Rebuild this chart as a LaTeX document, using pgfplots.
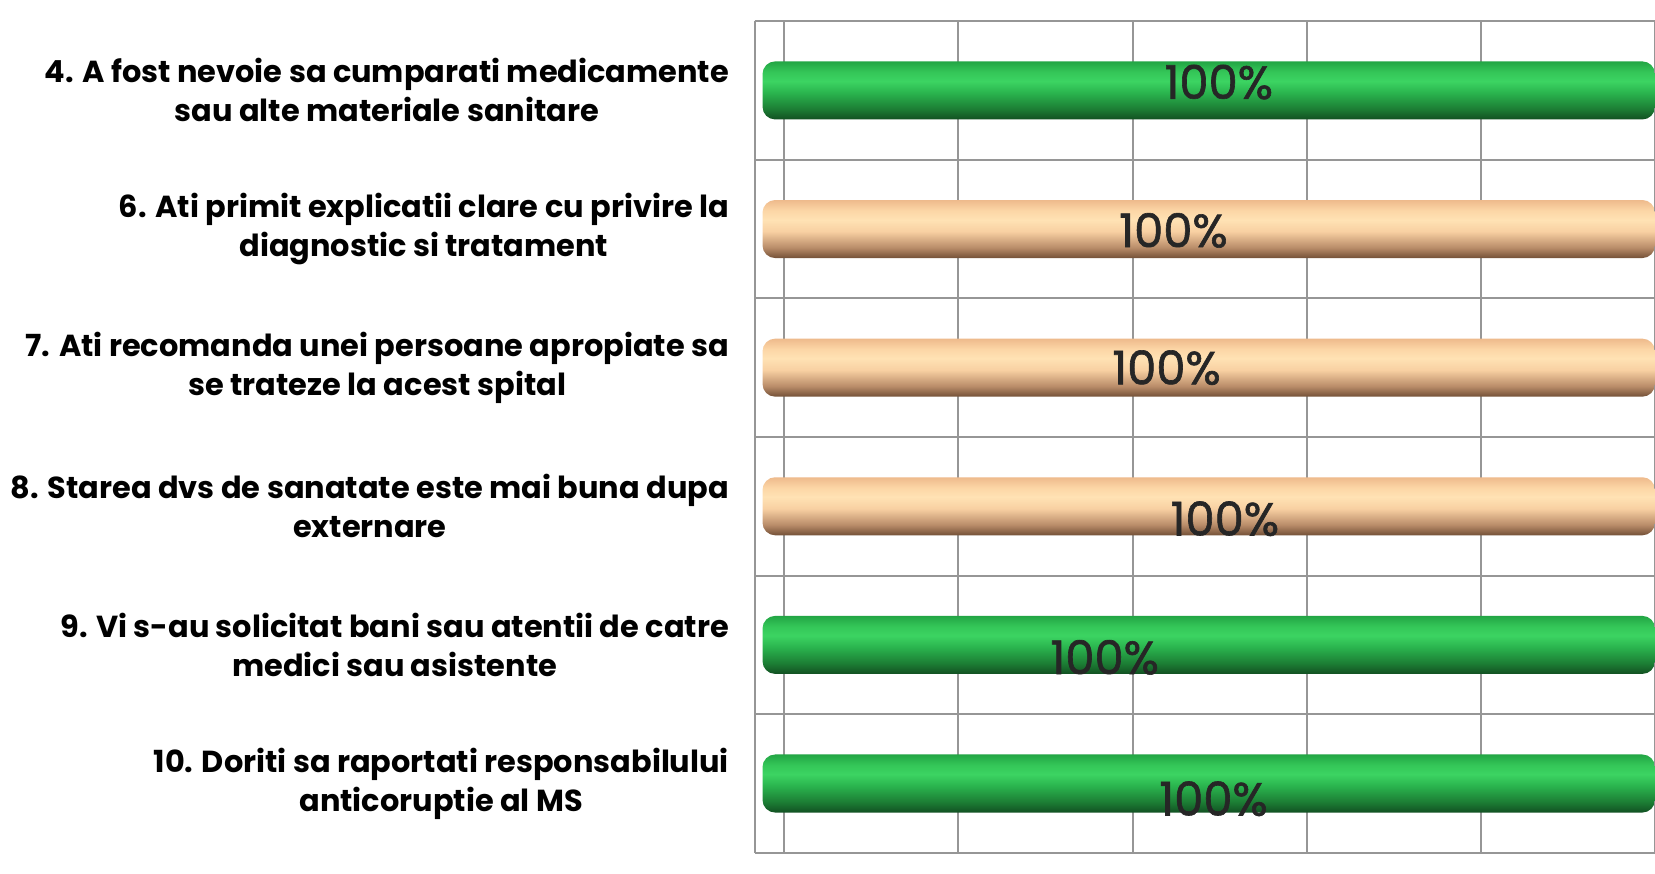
\documentclass[border=0pt]{standalone}
\usepackage{fontspec}
\setmainfont{Poppins}
\newfontfamily\pfat[FakeBold=1.3]{Poppins}
\usepackage{pgfplots}
\pgfplotsset{compat=1.18}
\definecolor{gridc}{RGB}{150,150,150}
\pgfdeclareverticalshading{greencyl}{100bp}{%
  color(0bp)=(rgb,255:red,18;green,80;blue,34);
  color(25bp)=(rgb,255:red,18;green,80;blue,34);
  color(34bp)=(rgb,255:red,28;green,125;blue,52);
  color(48bp)=(rgb,255:red,42;green,180;blue,78);
  color(58bp)=(rgb,255:red,60;green,212;blue,98);
  color(66bp)=(rgb,255:red,52;green,198;blue,88);
  color(75bp)=(rgb,255:red,34;green,165;blue,68);
  color(100bp)=(rgb,255:red,34;green,165;blue,68)}
\pgfdeclareverticalshading{peachcyl}{100bp}{%
  color(0bp)=(rgb,255:red,115;green,80;blue,55);
  color(25bp)=(rgb,255:red,115;green,80;blue,55);
  color(34bp)=(rgb,255:red,185;green,140;blue,105);
  color(48bp)=(rgb,255:red,248;green,208;blue,162);
  color(58bp)=(rgb,255:red,255;green,226;blue,180);
  color(66bp)=(rgb,255:red,252;green,214;blue,166);
  color(75bp)=(rgb,255:red,238;green,186;blue,140);
  color(100bp)=(rgb,255:red,238;green,186;blue,140)}
\begin{document}
\begin{tikzpicture}
\begin{axis}[
  at={(357.5pt,404pt)}, anchor=north west,
  scale only axis, width=426.5pt, height=394pt,
  xmin=-0.9, xmax=102.5, ymin=-0.5, ymax=5.5,
  y dir=reverse,
  bar width=27.5pt,
  xtick={2.5,22.5,42.5,62.5,82.5,102.5}, xticklabels={},
  xmajorgrids, major x grid style={gridc, line width=0.9pt},
  ytick={0,1,2,3,4,5},
  minor ytick={-0.5,0.5,1.5,2.5,3.5,4.5,5.5},
  yminorgrids, minor y grid style={gridc, line width=0.9pt},
  yticklabels={{4. A fost nevoie sa cumparati medicamente\\sau alte materiale sanitare},
    {6. Ati primit explicatii clare cu privire la\\diagnostic si tratament},
    {7. Ati recomanda unei persoane apropiate sa\\se trateze la acest spital},
    {8. Starea dvs de sanatate este mai buna dupa\\externare},
    {9. Vi s-au solicitat bani sau atentii de catre\\medici sau asistente},
    {10. Doriti sa raportati responsabilului\\anticoruptie al MS}},
  yticklabel style={align=center, font=\fontsize{14.4pt}{18.5pt}\selectfont\bfseries, inner sep=0pt, xshift=-12pt},
  major tick length=0pt, minor tick length=0pt,
  axis line style={gridc, line width=0.9pt},
  axis x line*=bottom, axis y line*=left,
  clip=true,
]
\addplot[xbar, bar shift=0pt, draw=none, shade, shading=greencyl, rounded corners=6pt]
  coordinates {(102.5,0)};
\addplot[xbar, bar shift=0pt, draw=none, shade, shading=peachcyl, rounded corners=6pt]
  coordinates {(102.5,1)};
\addplot[xbar, bar shift=0pt, draw=none, shade, shading=peachcyl, rounded corners=6pt]
  coordinates {(102.5,2)};
\addplot[xbar, bar shift=0pt, draw=none, shade, shading=peachcyl, rounded corners=6pt]
  coordinates {(102.5,3)};
\addplot[xbar, bar shift=0pt, draw=none, shade, shading=greencyl, rounded corners=6pt]
  coordinates {(102.5,4)};
\addplot[xbar, bar shift=0pt, draw=none, shade, shading=greencyl, rounded corners=6pt]
  coordinates {(102.5,5)};
\addplot[only marks, mark=none, point meta=explicit symbolic,
  nodes near coords,
  every node near coord/.append style={anchor=center, inner sep=0pt, font=\pfat\fontsize{22pt}{22pt}\selectfont, text=black!85}]
  coordinates {(52.4,-0.06) [100\%] (47.2,1.01) [100\%] (46.4,2.0) [100\%] (53.1,3.09) [100\%] (39.3,4.09) [100\%] (51.8,5.11) [100\%]};
\end{axis}
\pgfresetboundingbox
\useasboundingbox (0,0) rectangle (784pt,414pt);
\end{tikzpicture}
\end{document}
